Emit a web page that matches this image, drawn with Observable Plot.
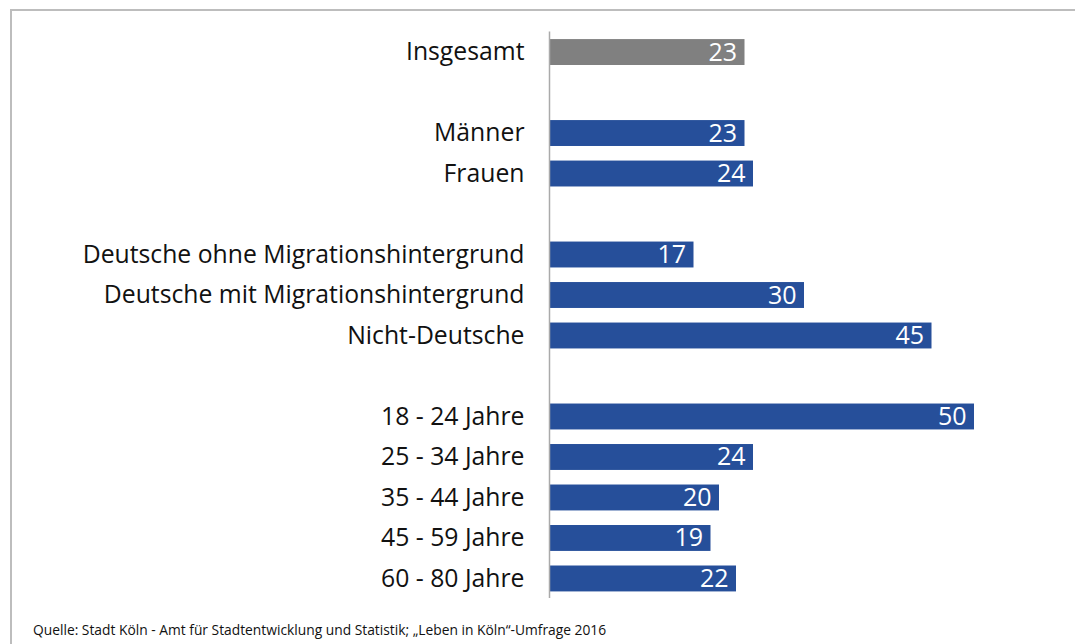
<!DOCTYPE html>
<html>
<head>
<meta charset="utf-8">
<script src="https://cdn.jsdelivr.net/npm/d3@7"></script>
<script src="https://cdn.jsdelivr.net/npm/@observablehq/plot@0.6"></script>
<style>
  html, body { margin: 0; padding: 0; background: #fff; }
  #wrap { position: relative; width: 1075px; height: 644px; overflow: hidden; }
  #frame { position: absolute; left: 10px; top: 9px; width: 1070px; height: 640px;
           border-top: 2px solid #bdbdbd; border-left: 2px solid #bdbdbd; }
  #chart { position: absolute; left: 0; top: 0; }
  #caption { position: absolute; left: 33px; top: 620px; font-family: "Open Sans", sans-serif;
             font-size: 13.8px; color: #111; }
</style>
</head>
<body>
<div id="wrap">
  <div id="frame"></div>
  <div id="chart"></div>
  <div id="caption">Quelle: Stadt Köln - Amt für Stadtentwicklung und Statistik; „Leben in Köln“-Umfrage 2016</div>
</div>
<script>
const categories = ["Insgesamt", " ", "Männer", "Frauen", "  ",
  "Deutsche ohne Migrationshintergrund", "Deutsche mit Migrationshintergrund", "Nicht-Deutsche", "   ",
  "18 - 24 Jahre", "25 - 34 Jahre", "35 - 44 Jahre", "45 - 59 Jahre", "60 - 80 Jahre"];
const labels = ["Insgesamt", "Männer", "Frauen",
  "Deutsche ohne Migrationshintergrund", "Deutsche mit Migrationshintergrund", "Nicht-Deutsche",
  "18 - 24 Jahre", "25 - 34 Jahre", "35 - 44 Jahre", "45 - 59 Jahre", "60 - 80 Jahre"];
const values = [23, 23, 24, 17, 30, 45, 50, 24, 20, 19, 22];
const groups = ["total", "sub", "sub", "sub", "sub", "sub", "sub", "sub", "sub", "sub", "sub"];

const data = labels.map((l, i) => ({label: l, value: values[i], group: groups[i]}));

const chart = Plot.plot({
  width: 1075,
  height: 644,
  marginLeft: 549,
  marginRight: 101,
  marginTop: 24.5,
  marginBottom: 38,
  style: {fontFamily: "'Open Sans', sans-serif", background: "transparent"},
  x: {domain: [0, 50], axis: null},
  y: {domain: categories, padding: 0.36, round: false, label: null},
  color: {domain: ["total", "sub"], range: ["#808080", "#264f9a"]},
  marks: [
    Plot.axisY({tickSize: 0, tickPadding: 25, fontSize: 24.75, fill: "#111", label: null}),
    Plot.barX(data, {x: "value", y: "label", fill: "group"}),
    Plot.ruleX([0], {stroke: "#aaa", strokeWidth: 1.5, insetTop: 7, insetBottom: 8}),
    Plot.text(data, {x: "value", y: "label", text: d => String(d.value), textAnchor: "end",
      dx: -8, dy: 0, fill: "white", fontSize: 25})
  ]
});
document.getElementById("chart").appendChild(chart);
</script>
</body>
</html>
